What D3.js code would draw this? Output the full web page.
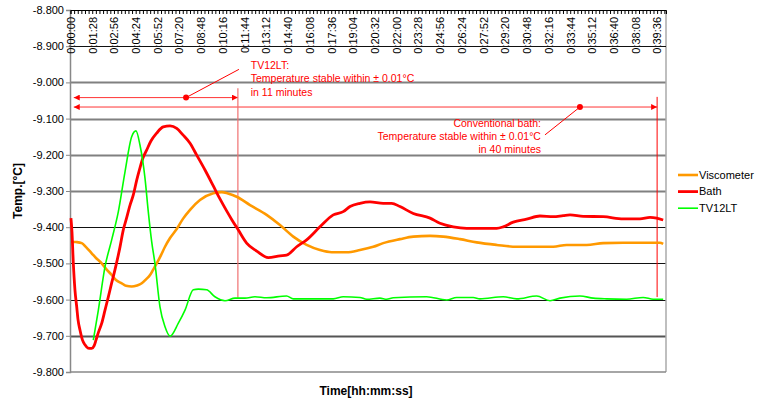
<!DOCTYPE html>
<html>
<head>
<meta charset="utf-8">
<title>Temperature stability</title>
<script src="https://cdn.jsdelivr.net/npm/d3@7"></script>
<style>
body { margin: 0; background: #fff; }
text { font-family: "Liberation Sans", Arial, sans-serif; }
</style>
</head>
<body>
<script>
// time in minutes, temperature in °C
var xLabels = ["0:00:00", "0:01:28", "0:02:56", "0:04:24", "0:05:52", "0:07:20", "0:08:48",
    "0:10:16", "0:11:44", "0:13:12", "0:14:40", "0:16:08", "0:17:36", "0:19:04", "0:20:32",
    "0:22:00", "0:23:28", "0:24:56", "0:26:24", "0:27:52", "0:29:20", "0:30:48", "0:32:16",
    "0:33:44", "0:35:12", "0:36:40", "0:38:08", "0:39:36"];
var yTicks = [-8.8, -8.9, -9.0, -9.1, -9.2, -9.3, -9.4, -9.5, -9.6, -9.7, -9.8];
var seriesNames = ["Viscometer", "Bath", "TV12LT"];

var viscTime = [0.03, 0.37, 0.76, 1.05, 1.43, 1.72, 2.11, 2.40, 2.78, 3.07, 3.46, 3.75, 4.13, 4.49, 4.81,
    5.10, 5.37, 5.57, 5.82, 6.11, 6.38, 6.72, 7.17, 7.59, 8.07, 8.74, 9.64, 10.21, 10.63, 11.22,
    12.12, 13.24, 14.14, 15.04, 15.94, 16.84, 17.63, 18.64, 19.54, 20.44, 21.11, 22.24, 23.14,
    24.27, 25.16, 26.29, 27.42, 28.77, 30.12, 31.47, 32.59, 33.49, 34.84, 35.96, 37.31, 38.66,
    39.79, 40.01];
var viscTemp = [-9.440, -9.441, -9.444, -9.455, -9.472, -9.485, -9.500, -9.515, -9.532, -9.546,
    -9.555, -9.562, -9.564, -9.561, -9.555, -9.544, -9.532, -9.518, -9.500, -9.477, -9.454, -9.430,
    -9.405, -9.377, -9.352, -9.325, -9.306, -9.303, -9.307, -9.316, -9.339, -9.366, -9.394, -9.426,
    -9.449, -9.463, -9.469, -9.469, -9.463, -9.454, -9.444, -9.433, -9.426, -9.424, -9.426, -9.433,
    -9.442, -9.449, -9.454, -9.454, -9.454, -9.449, -9.449, -9.444, -9.443, -9.443, -9.443, -9.446];

var bathTime = [0.03, 0.10, 0.19, 0.30, 0.42, 0.51, 0.64, 0.81, 0.98, 1.18, 1.43, 1.59, 1.72, 1.89,
    2.11, 2.33, 2.55, 2.78, 3.00, 3.34, 3.56, 3.75, 4.02, 4.24, 4.47, 4.69, 4.89, 5.14, 5.43, 5.82,
    6.26, 6.72, 7.17, 7.59, 8.07, 8.52, 9.08, 9.64, 10.09, 10.54, 10.90, 11.33, 11.89, 12.57, 13.35,
    14.14, 14.59, 15.27, 15.94, 16.84, 17.74, 18.41, 18.87, 19.54, 20.22, 21.11, 21.68, 22.24, 23.14,
    24.27, 24.94, 25.84, 26.74, 27.64, 28.77, 29.21, 29.89, 30.79, 31.69, 32.59, 33.26, 33.72, 34.61,
    35.96, 37.31, 38.44, 39.12, 39.57, 40.01];
var bathTemp = [-9.375, -9.413, -9.499, -9.573, -9.620, -9.656, -9.684, -9.712, -9.725, -9.734,
    -9.735, -9.728, -9.712, -9.690, -9.665, -9.629, -9.593, -9.554, -9.518, -9.455, -9.408, -9.380,
    -9.339, -9.311, -9.270, -9.236, -9.209, -9.187, -9.162, -9.140, -9.123, -9.120, -9.127, -9.145,
    -9.168, -9.201, -9.242, -9.286, -9.322, -9.355, -9.380, -9.408, -9.444, -9.466, -9.484, -9.479,
    -9.477, -9.454, -9.435, -9.399, -9.366, -9.357, -9.343, -9.334, -9.330, -9.334, -9.334, -9.343,
    -9.362, -9.375, -9.389, -9.399, -9.403, -9.403, -9.403, -9.399, -9.386, -9.378, -9.369, -9.371,
    -9.368, -9.366, -9.370, -9.371, -9.377, -9.377, -9.373, -9.375, -9.380];

var tvTime = [1.54, 1.88, 2.33, 2.78, 3.23, 3.68, 4.13, 4.42, 4.69, 5.03, 5.25, 5.48, 5.70, 6.04,
    6.38, 6.72, 7.28, 7.73, 8.29, 8.63, 9.19, 9.75, 10.43, 11.10, 11.78, 12.45, 13.24, 14.59, 15.04,
    16.39, 17.74, 18.41, 19.54, 19.99, 20.89, 21.34, 21.79, 24.04, 25.39, 26.07, 27.19, 27.64, 29.21,
    30.12, 31.47, 32.37, 33.04, 34.39, 35.29, 36.19, 37.54, 38.66, 39.34, 40.01];
var tvTemp = [-9.712, -9.629, -9.509, -9.435, -9.357, -9.247, -9.150, -9.134, -9.173, -9.265,
    -9.357, -9.440, -9.500, -9.620, -9.675, -9.701, -9.665, -9.629, -9.573, -9.571, -9.573, -9.592,
    -9.603, -9.596, -9.596, -9.592, -9.595, -9.590, -9.598, -9.598, -9.598, -9.592, -9.594, -9.599,
    -9.596, -9.599, -9.595, -9.592, -9.601, -9.594, -9.594, -9.598, -9.592, -9.598, -9.590, -9.603,
    -9.596, -9.590, -9.596, -9.598, -9.599, -9.594, -9.599, -9.599];

function toMin(s) {
    var p = s.split(":").map(Number);
    return p[0] * 60 + p[1] + p[2] / 60;
}
function zip(t, v) {
    return t.map(function(d, i) { return [d, v[i]]; });
}

var width = 760, height = 405;
var x = d3.scaleLinear().domain([0, 40.2]).range([70.5, 666]);
var y = d3.scaleLinear().domain([-9.8, -8.8]).range([372, 10]);
var fmt = d3.formatLocale({ decimal: ".", thousands: ",", grouping: [3], currency: ["", ""], minus: "-" }).format(".3f");

var svg = d3.select("body").append("svg")
    .attr("width", width)
    .attr("height", height);

// gridlines (some lines render black, some grey in the original)
var darkLines = [-8.9, -9.4, -9.5, -9.6];
svg.append("g").selectAll("line")
    .data(yTicks.slice(1, -1))
    .enter().append("line")
    .attr("x1", x.range()[0]).attr("x2", x.range()[1])
    .attr("y1", function(d) { return Math.round(y(d)) + 0.5; })
    .attr("y2", function(d) { return Math.round(y(d)) + 0.5; })
    .attr("stroke", function(d) { return darkLines.indexOf(d) >= 0 ? "#111" : (d == -9.7 ? "#555" : "#808080"); })
    .attr("stroke-width", function(d) { return darkLines.indexOf(d) >= 0 ? 1.2 : 1.8; });

// right border
svg.append("line")
    .attr("x1", 666).attr("x2", 666).attr("y1", y(-8.8)).attr("y2", y(-9.8))
    .attr("stroke", "#aaa").attr("stroke-width", 1.5);
// bottom border
svg.append("line")
    .attr("x1", x.range()[0]).attr("x2", 666).attr("y1", y(-9.8)).attr("y2", y(-9.8))
    .attr("stroke", "#888").attr("stroke-width", 1.5);

// y axis
var yAxis = svg.append("g")
    .attr("transform", "translate(" + (x.range()[0] - 0.5) + ",0)")
    .call(d3.axisLeft(y).tickValues(yTicks).tickFormat(fmt).tickSize(4).tickPadding(2));
yAxis.select(".domain").attr("stroke", "#888").attr("stroke-width", 1.5);
yAxis.selectAll(".tick line").attr("stroke", "#888");
yAxis.selectAll("text").style("font-size", "11px").attr("fill", "#000");

// x axis on top: minor ticks, then rotated labels
var minorStep = toMin(xLabels[1]) / 6;
var minorTicks = d3.range(0, 40.2, minorStep);
var xTicks = svg.append("g")
    .attr("transform", "translate(0," + y(-8.8) + ")")
    .call(d3.axisBottom(x).tickValues(minorTicks).tickSize(4).tickFormat(""));
xTicks.select(".domain").attr("stroke", "#000");
xTicks.selectAll(".tick line").attr("stroke", "#000");

var xLab = svg.append("g")
    .attr("transform", "translate(0," + y(-8.8) + ")")
    .call(d3.axisBottom(x).tickValues(xLabels.map(toMin)).tickSize(0)
        .tickFormat(function(d, i) { return xLabels[i]; }));
xLab.select(".domain").remove();
xLab.selectAll("text")
    .attr("transform", "rotate(-90)")
    .attr("x", -7).attr("y", 0).attr("dy", "0.35em")
    .style("text-anchor", "end")
    .style("font-size", "11px")
    .attr("fill", "#000");

// -8.900 line is black and crosses the labels
svg.append("line")
    .attr("x1", x.range()[0]).attr("x2", 666)
    .attr("y1", Math.round(y(-8.9)) + 0.5).attr("y2", Math.round(y(-8.9)) + 0.5)
    .attr("stroke", "#111").attr("stroke-width", 1.2);

// axis titles
svg.append("text")
    .attr("transform", "translate(22,191) rotate(-90)")
    .attr("text-anchor", "middle")
    .style("font-size", "12px").style("font-weight", "bold")
    .text("Temp.[°C]");
svg.append("text")
    .attr("x", 366).attr("y", 395)
    .attr("text-anchor", "middle")
    .style("font-size", "12px").style("font-weight", "bold")
    .text("Time[hh:mm:ss]");

// annotations
var red = "#ff0000";
var defs = svg.append("defs");
defs.append("marker").attr("id", "ah")
    .attr("viewBox", "0 0 10 10").attr("refX", 10).attr("refY", 5)
    .attr("markerWidth", 6).attr("markerHeight", 6)
    .attr("markerUnits", "userSpaceOnUse")
    .attr("orient", "auto-start-reverse")
    .append("path").attr("d", "M0,0L10,5L0,10Z").attr("fill", red);

function arrow(t0, t1, v) {
    svg.append("line")
        .attr("x1", x(t0)).attr("x2", x(t1)).attr("y1", y(v)).attr("y2", y(v))
        .attr("stroke", red).attr("stroke-width", 1).attr("stroke-opacity", 0.8)
        .attr("marker-start", "url(#ah)").attr("marker-end", "url(#ah)");
}
arrow(0.22, 11.3, -9.042);
arrow(0.22, 39.6, -9.068);

svg.append("line")
    .attr("x1", x(11.3)).attr("x2", x(11.3)).attr("y1", y(-9.016)).attr("y2", y(-9.595))
    .attr("stroke", "#f07070").attr("stroke-width", 1.2);
svg.append("line")
    .attr("x1", x(39.6)).attr("x2", x(39.6)).attr("y1", y(-9.040)).attr("y2", y(-9.593))
    .attr("stroke", red).attr("stroke-width", 1);

// leaders and dots
svg.append("line")
    .attr("x1", x(7.8)).attr("y1", y(-9.042)).attr("x2", x(11.37)).attr("y2", y(-8.964))
    .attr("stroke", red).attr("stroke-width", 1);
svg.append("line")
    .attr("x1", x(34.39)).attr("y1", y(-9.068)).attr("x2", x(32.03)).attr("y2", y(-9.145))
    .attr("stroke", red).attr("stroke-width", 1);
svg.append("circle").attr("cx", x(7.8)).attr("cy", y(-9.042)).attr("r", 3).attr("fill", red);
svg.append("circle").attr("cx", x(34.39)).attr("cy", y(-9.068)).attr("r", 3).attr("fill", red);

var note1 = svg.append("text").attr("fill", red).style("font-size", "10.5px");
["TV12LT:", "Temperature stable within ± 0.01°C", "in 11 minutes"].forEach(function(s, i) {
    note1.append("tspan").attr("x", x(12.17)).attr("y", 69 + i * 13.4).text(s);
});
var note2 = svg.append("text").attr("fill", red).style("font-size", "10.5px").attr("text-anchor", "end");
["Conventional bath:", "Temperature stable within ± 0.01°C", "in 40 minutes"].forEach(function(s, i) {
    note2.append("tspan").attr("x", x(31.76)).attr("y", 126.5 + i * 13.4).text(s);
});

// series
var line = d3.line()
    .x(function(d) { return x(d[0]); })
    .y(function(d) { return y(d[1]); })
    .curve(d3.curveMonotoneX);

var series = [
    { name: seriesNames[0], data: zip(viscTime, viscTemp), color: "#ff9900", w: 2.6 },
    { name: seriesNames[1], data: zip(bathTime, bathTemp), color: "#ff0000", w: 2.8 },
    { name: seriesNames[2], data: zip(tvTime, tvTemp), color: "#00ff00", w: 1.6 }
];

svg.selectAll(".series")
    .data(series)
    .enter().append("path")
    .attr("class", "series")
    .attr("d", function(d) { return line(d.data); })
    .attr("fill", "none")
    .attr("stroke", function(d) { return d.color; })
    .attr("stroke-width", function(d) { return d.w; })
    .attr("stroke-linejoin", "round");

// legend
var legend = svg.selectAll(".legend")
    .data(series)
    .enter().append("g")
    .attr("class", "legend")
    .attr("transform", function(d, i) { return "translate(678," + (175 + i * 16.6) + ")"; });
legend.append("line")
    .attr("x1", 0).attr("x2", 20)
    .attr("stroke", function(d) { return d.color; })
    .attr("stroke-width", function(d) { return d.w; });
legend.append("text")
    .attr("x", 21).attr("dy", "0.35em")
    .style("font-size", "11px")
    .text(function(d) { return d.name; });
</script>
</body>
</html>
